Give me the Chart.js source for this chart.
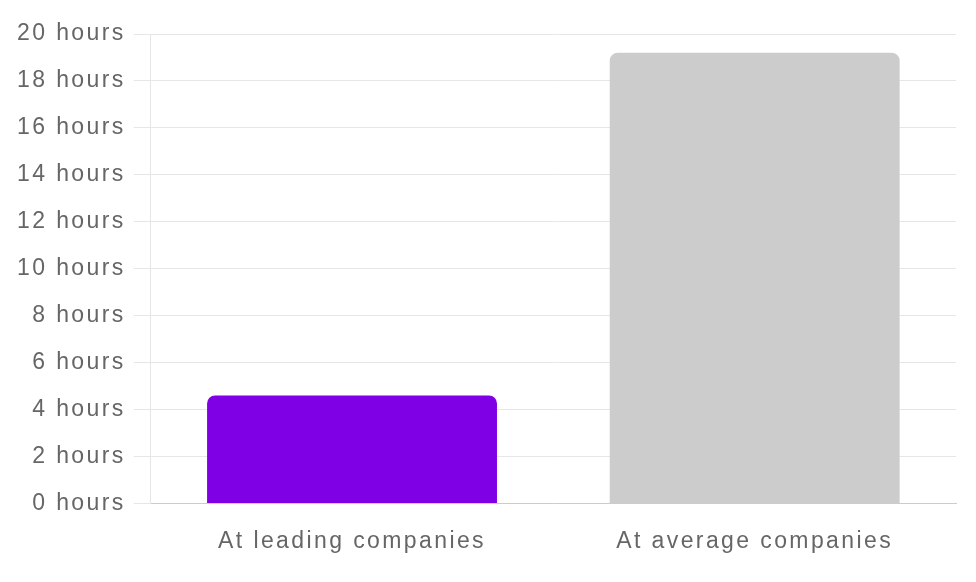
<!DOCTYPE html>
<html>
<head>
<meta charset="utf-8">
<script src="https://cdn.jsdelivr.net/npm/chart.js@4/dist/chart.umd.min.js"></script>
<style>
  html, body { margin: 0; padding: 0; background: #fff; }
  #wrap { width: 976px; height: 582px; }
</style>
</head>
<body>
<div id="wrap"><canvas id="hoursChart"></canvas></div>
<script>
const categories = ['At leading companies', 'At average companies'];
const hours = [4.6, 19.2];
const barColors = ['#8000e6', '#cccccc'];
const yTicks = [0, 2, 4, 6, 8, 10, 12, 14, 16, 18, 20];

// canvas has no letter-spacing option in Chart.js, so set it on the context
const spacing = {
    id: 'spacing',
    beforeLayout(chart) { chart.ctx.letterSpacing = '2.4px'; },
    beforeDraw(chart) { chart.ctx.letterSpacing = '2.4px'; }
};

const ctx = document.getElementById('hoursChart').getContext('2d');
new Chart(ctx, {
    type: 'bar',
    data: {
        labels: categories,
        datasets: [{
            data: hours,
            backgroundColor: barColors,
            borderRadius: { topLeft: 8, topRight: 8 },
            borderSkipped: 'start'
        }]
    },
    plugins: [spacing],
    options: {
        responsive: true,
        maintainAspectRatio: false,
        animation: false,
        layout: { padding: { left: 9, right: 20, top: 34, bottom: 3 } },
        plugins: {
            legend: { display: false },
            tooltip: { enabled: false }
        },
        scales: {
            x: {
                grid: { display: false, drawTicks: false },
                border: { color: '#cccccc', width: 1 },
                ticks: {
                    padding: 24,
                    color: '#666666',
                    font: { family: 'Liberation Sans, Arial, sans-serif', size: 23 }
                }
            },
            y: {
                min: 0,
                max: 20,
                afterBuildTicks(scale) { scale.ticks = yTicks.map(v => ({ value: v })); },
                grid: { color: '#e6e6e6', tickLength: 17 },
                border: { color: '#e6e6e6' },
                ticks: {
                    padding: 8,
                    color: '#666666',
                    font: { family: 'Liberation Sans, Arial, sans-serif', size: 23 },
                    callback: v => v + ' hours'
                }
            }
        }
    }
});
</script>
</body>
</html>
